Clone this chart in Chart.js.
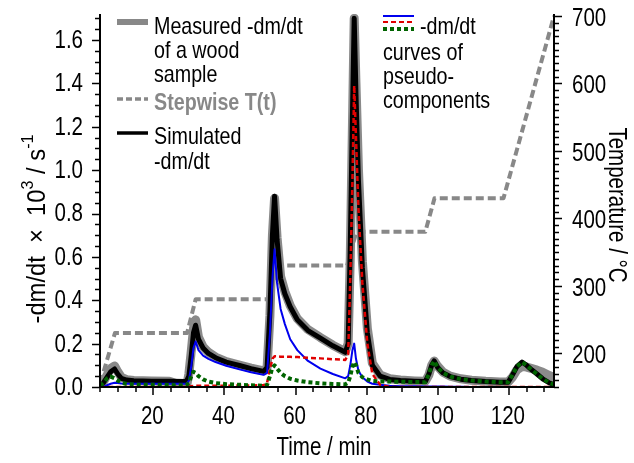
<!DOCTYPE html>
<html>
<head>
<meta charset="utf-8">
<script src="https://cdn.jsdelivr.net/npm/chart.js@4.4.1/dist/chart.umd.min.js"></script>
<style>
html,body{margin:0;padding:0;background:#fff;}
canvas{display:block;}
</style>
</head>
<body>
<canvas id="c" width="634" height="463"></canvas>
<script>
// ---- DATA ----
const time = [5.1, 6, 7, 8, 9.1, 10, 11, 12.5, 14.5, 19.5,
  24.5, 29.3, 30, 30.7, 31.3, 31.9, 32.7, 34, 35.5, 37.5,
  40.5, 44.5, 47.5, 51, 52, 52.8, 53.5, 54.1, 54.8, 55.8,
  57, 58.5, 60.5, 63.5, 67, 70.5, 74, 74.8, 75.4, 76,
  76.5, 77, 77.7, 78.8, 80.2, 81.6, 83.8, 86.5, 89.5, 93.5,
  96.5, 97.5, 98.3, 99, 100, 101.5, 103.5, 106.5, 109.5, 113.5,
  117.5, 119.8, 121, 122.3, 123.7, 125, 126.5, 127.9, 129.5, 131.5, 132.7];

const measured = [0.005, 0.025, 0.055, 0.085, 0.097, 0.07, 0.045, 0.034, 0.03, 0.028,
  0.027, 0.0, 0.06, 0.17, 0.27, 0.31, 0.23, 0.185, 0.16, 0.138,
  0.117, 0.1, 0.087, 0.074, 0.09, 0.33, 0.7, 0.87, 0.69, 0.51,
  0.44, 0.375, 0.315, 0.265, 0.228, 0.193, 0.163, 0.2, 0.6, 1.2,
  1.7, 1.4, 1.0, 0.58, 0.27, 0.11, 0.055, 0.038, 0.032, 0.028,
  0.026, 0.055, 0.1, 0.12, 0.095, 0.068, 0.05, 0.038, 0.031, 0.026,
  0.023, 0.023, 0.045, 0.08, 0.095, 0.092, 0.085, 0.078, 0.068, 0.052, 0.045];

const simulated = [0.005, 0.02, 0.045, 0.07, 0.083, 0.06, 0.04, 0.032, 0.029, 0.027,
  0.026, 0.025, 0.05, 0.15, 0.25, 0.285, 0.22, 0.18, 0.155, 0.135,
  0.115, 0.098, 0.085, 0.072, 0.09, 0.35, 0.7, 0.88, 0.68, 0.5,
  0.43, 0.37, 0.31, 0.26, 0.225, 0.19, 0.16, 0.2, 0.65, 1.25,
  1.7, 1.35, 0.95, 0.55, 0.25, 0.1, 0.05, 0.035, 0.03, 0.027,
  0.025, 0.06, 0.1, 0.12, 0.09, 0.065, 0.048, 0.036, 0.03, 0.025,
  0.022, 0.022, 0.055, 0.095, 0.115, 0.1, 0.078, 0.06, 0.038, 0.018, 0.012];

const compBlue = [0, 0.002, 0.008, 0.015, 0.02, 0.018, 0.016, 0.015, 0.015, 0.015,
  0.015, 0.015, 0.03, 0.1, 0.18, 0.21, 0.17, 0.145, 0.13, 0.115,
  0.098, 0.08, 0.068, 0.056, 0.065, 0.25, 0.5, 0.635, 0.48, 0.36,
  0.29, 0.22, 0.17, 0.12, 0.085, 0.06, 0.04, 0.05, 0.1, 0.17,
  0.2, 0.13, 0.075, 0.045, 0.025, 0.015, 0.01, 0.006, 0.004, 0.003,
  0.002, 0.002, 0.002, 0.002, 0.002, 0.002, 0.001, 0.001, 0, 0,
  0, 0, 0, 0, 0, 0, 0, 0, 0, 0, 0];

const compRed = [0, 0, 0, 0, 0, 0, 0, 0, 0, 0,
  0, 0, 0.002, 0.004, 0.005, 0.006, 0.006, 0.006, 0.006, 0.006,
  0.006, 0.007, 0.007, 0.008, 0.02, 0.08, 0.13, 0.142, 0.142, 0.14,
  0.14, 0.139, 0.138, 0.135, 0.132, 0.128, 0.125, 0.15, 0.5, 0.95,
  1.39, 1.15, 0.82, 0.48, 0.2, 0.06, 0.01, 0, 0, 0,
  0, 0, 0, 0, 0, 0, 0, 0, 0, 0,
  0, 0, 0, 0, 0, 0, 0, 0, 0, 0, 0];

const compGreen = [0.005, 0.02, 0.04, 0.048, 0.04, 0.03, 0.02, 0.014, 0.011, 0.01,
  0.009, 0.008, 0.02, 0.05, 0.07, 0.065, 0.05, 0.035, 0.025, 0.018,
  0.013, 0.01, 0.008, 0.006, 0.01, 0.05, 0.09, 0.1, 0.085, 0.065,
  0.05, 0.038, 0.03, 0.022, 0.017, 0.014, 0.012, 0.02, 0.05, 0.095,
  0.115, 0.1, 0.065, 0.045, 0.035, 0.028, 0.025, 0.025, 0.024, 0.023,
  0.022, 0.06, 0.1, 0.12, 0.09, 0.065, 0.048, 0.036, 0.03, 0.025,
  0.022, 0.022, 0.055, 0.095, 0.115, 0.1, 0.078, 0.06, 0.038, 0.018, 0.012];

const tempTime = [5.1, 9.2, 29.5, 31.9, 52.3, 55.0, 74.5, 77.1, 96.5, 99.1, 118.5, 132.7];
const tempVals = [156, 230, 230, 280, 280, 330, 330, 380, 380, 430, 430, 700];

const xTickLabels = [20, 40, 60, 80, 100, 120];
const yTickLabels = [0.0, 0.2, 0.4, 0.6, 0.8, 1.0, 1.2, 1.4, 1.6];
const tTickLabels = [200, 300, 400, 500, 600, 700];

// ---- helpers ----
const pts = (xs, ys) => xs.map((t, i) => ({x: t, y: ys[i]}));
const FONT = "'Liberation Sans', Arial, sans-serif";
const SX = 0.82; // condensed look

function txt(ctx, s, x, y, opt) {
  const o = Object.assign({size: 25, bold: false, align: 'left', color: '#000', rot: 0, sx: SX}, opt || {});
  ctx.save();
  ctx.translate(x, y);
  if (o.rot) ctx.rotate(o.rot);
  ctx.scale(o.sx, 1);
  ctx.font = `${o.bold ? 'bold ' : ''}${o.size}px ${FONT}`;
  ctx.fillStyle = o.color;
  ctx.textAlign = o.align;
  ctx.textBaseline = 'middle';
  ctx.fillText(s, 0, 0);
  ctx.restore();
}

const axisPlugin = {
  id: 'axisPlugin',
  afterDraw(chart) {
    const ctx = chart.ctx;
    const ca = chart.chartArea;
    const sx = chart.scales.x, sy = chart.scales.y, st = chart.scales.y2;
    ctx.save();
    ctx.strokeStyle = '#000';
    ctx.lineWidth = 2;
    ctx.beginPath();
    ctx.moveTo(ca.left, ca.top); ctx.lineTo(ca.left, ca.bottom); ctx.lineTo(ca.right, ca.bottom); ctx.lineTo(ca.right, ca.top);
    ctx.stroke();
    ctx.lineWidth = 1.5;
    ctx.beginPath();
    for (let t = 5; t <= sx.max + 1e-6; t += 5) {
      const p = Math.round(sx.getPixelForValue(t));
      const len = (t % 20 === 0) ? 8 : 5;
      ctx.moveTo(p, ca.bottom); ctx.lineTo(p, ca.bottom + len);
    }
    for (let k = 0; k <= 34; k++) {
      const v = k * 0.05;
      if (v > sy.max + 1e-6) break;
      const p = Math.round(sy.getPixelForValue(v)) + 0.5;
      const len = (k % 4 === 0) ? 8 : 5;
      ctx.moveTo(ca.left, p); ctx.lineTo(ca.left - len, p);
    }
    for (let T = 150; T <= st.max + 1e-6; T += 10) {
      const p = Math.round(st.getPixelForValue(T)) + 0.5;
      const len = (T % 100 === 0) ? 8 : 5;
      ctx.moveTo(ca.right, p); ctx.lineTo(ca.right + len, p);
    }
    ctx.stroke();

    // tick labels
    xTickLabels.forEach(v => txt(ctx, String(v), sx.getPixelForValue(v) - 1, ca.bottom + 30, {align: 'center'}));
    yTickLabels.forEach(v => txt(ctx, v.toFixed(1), ca.left - 17, sy.getPixelForValue(v) + 1, {align: 'right'}));
    tTickLabels.forEach(v => txt(ctx, String(v), ca.right + 18, st.getPixelForValue(v) + 3, {align: 'left'}));

    // axis titles
    txt(ctx, 'Time / min', 324, 448, {align: 'center'});
    txt(ctx, 'Temperature / °C', 616, 205, {align: 'center', rot: Math.PI / 2});
    ctx.save();
    ctx.translate(38, 229);
    ctx.rotate(-Math.PI / 2);
    ctx.scale(0.95, 1);
    ctx.textAlign = 'left';
    ctx.textBaseline = 'middle';
    ctx.fillStyle = '#000';
    const parts = [
      {t: '-dm/dt  ×  10', sup: false},
      {t: '3', sup: true},
      {t: ' / s', sup: false},
      {t: '-1', sup: true}
    ];
    let total = 0;
    parts.forEach(p => { ctx.font = p.sup ? `17px ${FONT}` : `25px ${FONT}`; p.w = ctx.measureText(p.t).width; total += p.w; });
    let cx = -total / 2;
    parts.forEach(p => {
      ctx.font = p.sup ? `17px ${FONT}` : `25px ${FONT}`;
      ctx.fillText(p.t, cx, p.sup ? -10 : 0);
      cx += p.w;
    });
    ctx.restore();

    // legend (left)
    ctx.lineCap = 'butt';
    ctx.setLineDash([]);
    ctx.strokeStyle = '#888'; ctx.lineWidth = 6;
    ctx.beginPath(); ctx.moveTo(117, 22); ctx.lineTo(148, 22); ctx.stroke();
    ctx.setLineDash([6, 3]); ctx.lineWidth = 3.5;
    ctx.beginPath(); ctx.moveTo(117, 99); ctx.lineTo(148, 99); ctx.stroke();
    ctx.setLineDash([]); ctx.strokeStyle = '#000'; ctx.lineWidth = 3.5;
    ctx.beginPath(); ctx.moveTo(117, 133); ctx.lineTo(148, 133); ctx.stroke();

    txt(ctx, 'Measured -dm/dt', 154, 27, {size: 24});
    txt(ctx, 'of a wood', 154, 51, {size: 24});
    txt(ctx, 'sample', 154, 75, {size: 24});
    txt(ctx, 'Stepwise T(t)', 154, 103, {size: 24, bold: true, color: '#888'});
    txt(ctx, 'Simulated', 154, 137, {size: 24});
    txt(ctx, '-dm/dt', 154, 162, {size: 24});

    // legend (right)
    ctx.lineWidth = 2; ctx.strokeStyle = '#0000ee';
    ctx.beginPath(); ctx.moveTo(383, 16); ctx.lineTo(414, 16); ctx.stroke();
    ctx.setLineDash([5, 3]); ctx.strokeStyle = '#e00000';
    ctx.beginPath(); ctx.moveTo(383, 22); ctx.lineTo(414, 22); ctx.stroke();
    ctx.setLineDash([4, 3]); ctx.strokeStyle = '#006400'; ctx.lineWidth = 4;
    ctx.beginPath(); ctx.moveTo(383, 29); ctx.lineTo(414, 29); ctx.stroke();
    ctx.setLineDash([]);
    txt(ctx, '-dm/dt', 420, 27, {size: 24});
    txt(ctx, 'curves of', 383, 53, {size: 24});
    txt(ctx, 'pseudo-', 383, 77, {size: 24});
    txt(ctx, 'components', 383, 101, {size: 24});
    ctx.restore();
  }
};

new Chart(document.getElementById('c'), {
  type: 'line',
  data: {
    datasets: [
      {label: 'comp3', data: pts(time, compGreen), borderColor: '#006400', borderWidth: 4, borderDash: [4, 3], yAxisID: 'y', order: 1},
      {label: 'comp2', data: pts(time, compRed), borderColor: '#e00000', borderWidth: 2.5, borderDash: [5, 3], yAxisID: 'y', order: 2},
      {label: 'comp1', data: pts(time, compBlue), borderColor: '#0000ee', borderWidth: 2, yAxisID: 'y', order: 3},
      {label: 'Simulated -dm/dt', data: pts(time, simulated), borderColor: '#000', borderWidth: 5, yAxisID: 'y', order: 4},
      {label: 'Measured -dm/dt', data: pts(time, measured), borderColor: '#8a8a8a', borderWidth: 9, yAxisID: 'y', order: 5},
      {label: 'Stepwise T(t)', data: pts(tempTime, tempVals), borderColor: '#888', borderWidth: 4, borderDash: [8, 4], yAxisID: 'y2', order: 6}
    ]
  },
  options: {
    responsive: false,
    animation: false,
    layout: {padding: {top: 14, left: 0, right: 0, bottom: 0}},
    plugins: {legend: {display: false}, tooltip: {enabled: false}},
    elements: {point: {radius: 0}, line: {tension: 0, borderJoinStyle: 'round'}},
    scales: {
      x: {
        type: 'linear', min: 5, max: 132.7,
        grid: {display: false}, border: {display: false},
        ticks: {display: false},
        afterFit(s) { s.height = 76; s.paddingLeft = 0; s.paddingRight = 0; }
      },
      y: {
        position: 'left', min: 0, max: 1.72,
        grid: {display: false}, border: {display: false},
        ticks: {display: false},
        afterFit(s) { s.width = 100; s.paddingTop = 0; s.paddingBottom = 0; }
      },
      y2: {
        position: 'right', min: 150, max: 703,
        grid: {display: false}, border: {display: false},
        ticks: {display: false},
        afterFit(s) { s.width = 80; s.paddingTop = 0; s.paddingBottom = 0; }
      }
    }
  },
  plugins: [axisPlugin]
});
</script>
</body>
</html>
